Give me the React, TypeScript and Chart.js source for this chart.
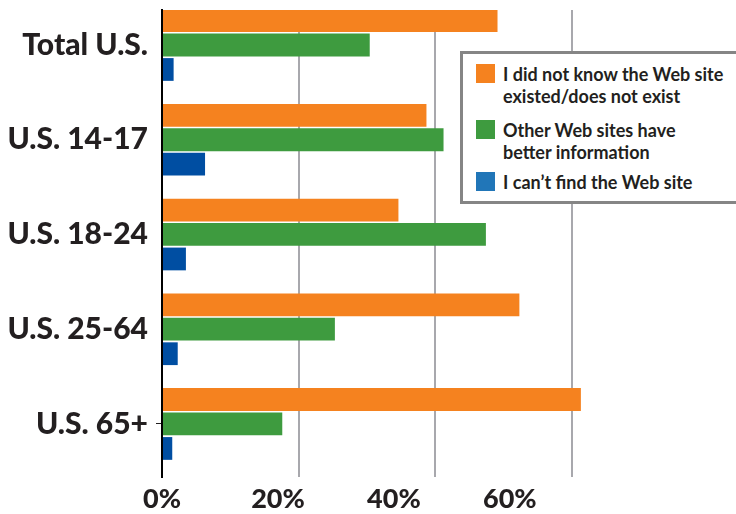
import React, { useEffect, useRef } from 'react';
import { Chart, registerables } from 'chart.js';

Chart.register(...registerables);

const CATEGORIES = ['Total U.S.', 'U.S. 14-17', 'U.S. 18-24', 'U.S. 25-64', 'U.S. 65+'];
const SERIES_NAMES = [
  'I did not know the Web site existed/does not exist',
  'Other Web sites have better information',
  'I can’t find the Web site',
];
const LEGEND_LINES = [
  ['I did not know the Web site', 'existed/does not exist'],
  ['Other Web sites have', 'better information'],
  ['I can’t find the Web site'],
];
const NOT_KNOW = [49.1, 38.7, 34.6, 52.3, 61.3];
const BETTER_ELSEWHERE = [30.4, 41.2, 47.4, 25.3, 17.6];
const CANT_FIND = [1.7, 6.3, 3.5, 2.3, 1.5];
const GRID_TICKS = [0, 20, 40, 60];
const TICK_LABELS = ['0%', '20%', '40%', '60%'];
const BAR_COLORS = ['#f5821f', '#3e9b3f', '#004ea2'];
const SWATCH_COLORS = ['#f5821f', '#3e9b3f', '#2176b8'];

const TEXT_COLOR = '#231f20';
const SERIES = [NOT_KNOW, BETTER_ELSEWHERE, CANT_FIND];

export default function App() {
  const canvasRef = useRef<HTMLCanvasElement | null>(null);

  useEffect(() => {
    if (!canvasRef.current) return;
    const chart = new Chart(canvasRef.current, {
      type: 'bar',
      data: {
        labels: CATEGORIES,
        datasets: SERIES.map((values, i) => ({
          label: SERIES_NAMES[i],
          data: values,
          backgroundColor: BAR_COLORS[i],
          borderWidth: 0,
          categoryPercentage: 0.775,
          barPercentage: 0.93,
          xAxisID: 'x',
          yAxisID: 'y',
        })),
      },
      options: {
        indexAxis: 'y',
        animation: false,
        responsive: false,
        layout: { padding: { top: 10, left: 0, right: 0, bottom: 0 } },
        plugins: { legend: { display: false }, tooltip: { enabled: false } },
        scales: {
          y: {
            type: 'category',
            offset: true,
            afterBuildTicks: (s: any) => {
              s._startValue = -0.3694;
              s._valueRange = 4.929;
            },
            afterFit: (s: any) => {
              s.width = 162;
              s.paddingTop = 0;
              s.paddingBottom = 0;
            },
            grid: {
              display: true,
              offset: false,
              drawOnChartArea: false,
              drawTicks: true,
              tickLength: 6,
              tickWidth: 1,
              tickColor: (c: any) => (c.index === CATEGORIES.length - 1 ? TEXT_COLOR : 'rgba(0,0,0,0)'),
            },
            border: { display: true, color: '#000', width: 2 },
            ticks: {
              color: TEXT_COLOR,
              font: { family: 'Lato', weight: 900, size: 30 },
              padding: 8,
              autoSkip: false,
            },
          },
          x: {
            type: 'linear',
            position: 'bottom',
            min: 0,
            max: 84,
            afterBuildTicks: (s: any) => {
              s.ticks = GRID_TICKS.map((v) => ({ value: v }));
            },
            afterFit: (s: any) => {
              s.height = 0;
              s.paddingLeft = 0;
              s.paddingRight = 0;
            },
            grid: { color: '#a8a8ad', lineWidth: 2, drawTicks: false },
            border: { display: false },
            ticks: { display: false },
          },
          x2: {
            type: 'linear',
            position: 'bottom',
            min: 0,
            max: 99,
            afterBuildTicks: (s: any) => {
              s.ticks = GRID_TICKS.map((v) => ({ value: v }));
            },
            afterFit: (s: any) => {
              s.height = 37;
              s.paddingLeft = 0;
              s.paddingRight = 0;
            },
            grid: { display: false, drawTicks: false },
            border: { display: false },
            ticks: {
              callback: (_v: any, i: number) => TICK_LABELS[i],
              color: TEXT_COLOR,
              font: { family: 'Lato', weight: 900, size: 27 },
              padding: 6,
              maxRotation: 0,
              autoSkip: false,
            },
          },
        },
      } as any,
    });
    return () => chart.destroy();
  }, []);

  const itemTops = [9, 65, 117];

  return (
    <div
      style={{
        position: 'fixed',
        left: 0,
        top: 0,
        width: 736,
        height: 514,
        overflow: 'hidden',
        background: '#fff',
      }}
    >
      <canvas ref={canvasRef} width={736} height={514} style={{ position: 'absolute', left: 0, top: 0 }} />
      <div
        style={{
          position: 'absolute',
          left: 460,
          top: 51,
          width: 300,
          height: 147,
          border: '3px solid #858585',
          background: '#fff',
          boxSizing: 'content-box',
          fontFamily: 'Lato',
          fontWeight: 700,
          fontSize: 18,
          lineHeight: '22px',
          color: TEXT_COLOR,
        }}
      >
        {LEGEND_LINES.map((lines, i) => (
          <div key={i} style={{ position: 'absolute', left: 13, top: itemTops[i], whiteSpace: 'nowrap' }}>
            <span
              style={{
                position: 'absolute',
                left: 0,
                top: 1,
                width: 19,
                height: 19,
                background: SWATCH_COLORS[i],
              }}
            />
            <div style={{ marginLeft: 27 }}>
              {lines.map((ln, j) => (
                <div key={j}>{ln}</div>
              ))}
            </div>
          </div>
        ))}
      </div>
    </div>
  );
}
